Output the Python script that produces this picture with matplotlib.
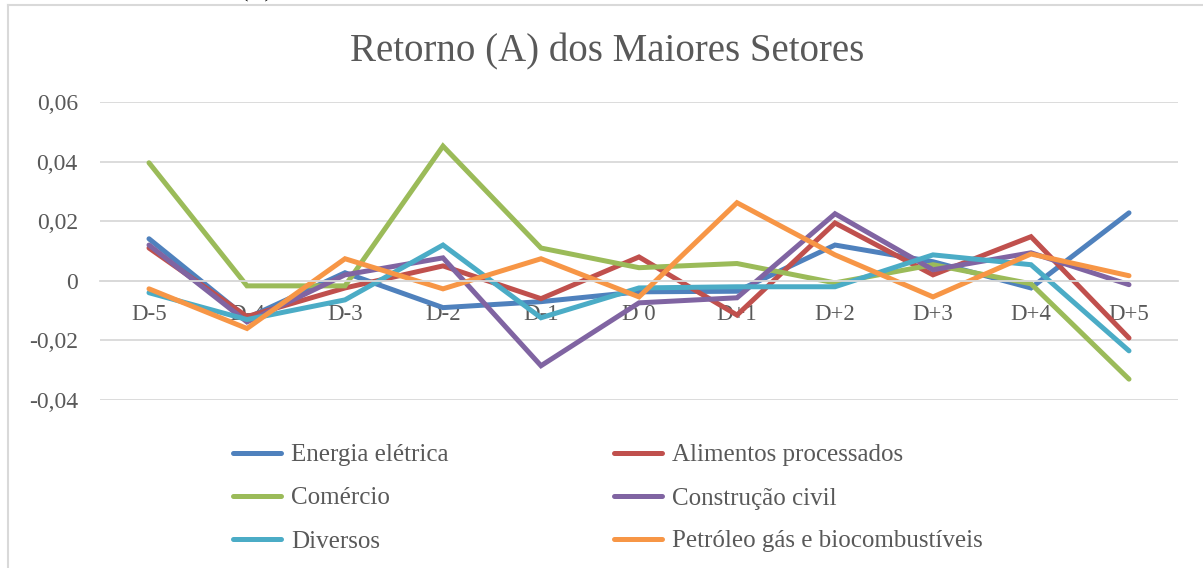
import matplotlib
matplotlib.use("Agg")
import matplotlib.pyplot as plt
from matplotlib.lines import Line2D
from matplotlib.ticker import FuncFormatter, MultipleLocator

# categories (event window days)
dias = ["D-5", "D-4", "D-3", "D-2", "D-1", "D 0", "D+1", "D+2", "D+3", "D+4", "D+5"]

# abnormal return per sector
energia = [0.0141, -0.0125, 0.0027, -0.0090, -0.0070, -0.0037, -0.0035, 0.0120, 0.0064, -0.0024, 0.0228]
alimentos = [0.0110, -0.0120, -0.0024, 0.0050, -0.0060, 0.0080, -0.0115, 0.0194, 0.0020, 0.0148, -0.0192]
comercio = [0.0396, -0.0017, -0.0017, 0.0452, 0.0110, 0.0044, 0.0058, -0.0007, 0.0054, -0.0010, -0.0330]
construcao = [0.0120, -0.0138, 0.0020, 0.0077, -0.0285, -0.0074, -0.0057, 0.0225, 0.0037, 0.0094, -0.0013]
diversos = [-0.0040, -0.0130, -0.0064, 0.0120, -0.0124, -0.0024, -0.0020, -0.0020, 0.0087, 0.0054, -0.0235]
petroleo = [-0.0027, -0.0160, 0.0074, -0.0027, 0.0074, -0.0054, 0.0262, 0.0087, -0.0054, 0.0090, 0.0017]

series = [
    ("Energia elétrica", energia, "#4F81BD"),
    ("Alimentos processados", alimentos, "#C0504D"),
    ("Comércio", comercio, "#9BBB59"),
    ("Construção civil", construcao, "#8064A2"),
    ("Diversos", diversos, "#4BACC6"),
    ("Petróleo gás e biocombustíveis", petroleo, "#F79646"),
]

plt.rcParams['font.family'] = ['Liberation Serif', 'DejaVu Serif']
txt = "#595959"
grid = "#D9D9D9"

fig = plt.figure(figsize=(12.03, 5.68), dpi=100)
ax = fig.add_axes([100/1203, 1-400/568, 1078/1203, 298/568])

x = list(range(len(dias)))
handles = {}
for name, vals, col in series:
    ln, = ax.plot(x, vals, color=col, lw=3.6, solid_capstyle='round',
                  solid_joinstyle='miter', label=name)
    handles[name] = ln

ax.set_xlim(-0.5, len(dias) - 0.5)
ax.set_ylim(-0.04, 0.06)
ax.yaxis.set_major_locator(MultipleLocator(0.02))

def fmt(v, pos):
    if abs(v) < 1e-9:
        return "0"
    return ("%.2f" % v).replace(".", ",")

ax.yaxis.set_major_formatter(FuncFormatter(fmt))
ax.grid(axis='y', color=grid, lw=1.3)
ax.set_axisbelow(True)
for s in ["top", "right", "left"]:
    ax.spines[s].set_visible(False)
ax.spines["bottom"].set_position(("data", 0))
ax.spines["bottom"].set_color(grid)
ax.spines["bottom"].set_linewidth(1.3)
ax.set_xticks(x)
ax.set_xticklabels(dias)
ax.tick_params(axis='x', length=0, pad=17, labelsize=16.5, labelcolor=txt)
ax.tick_params(axis='y', length=0, pad=16, labelsize=17, labelcolor=txt)

fig.text(607/1203, 1-52/568, "Retorno (A) dos Maiores Setores", ha='center', va='center',
         fontsize=28, color=txt)

# fragment of the caption above the chart
fig.text(256/1203, 1-2/568, "(A)", ha='center', va='bottom', fontsize=16, color="black")

# chart area border (left and top)
fig.add_artist(Line2D([8/1203, 8/1203], [0, 1-5/568], color=grid, lw=1.5))
fig.add_artist(Line2D([8/1203, 1], [1-5/568, 1-5/568], color=grid, lw=1.5))

order = ["Energia elétrica", "Comércio", "Diversos",
         "Alimentos processados", "Construção civil", "Petróleo gás e biocombustíveis"]
fig.legend([handles[n] for n in order], order, ncol=2, loc='upper left',
           bbox_to_anchor=(233/1203, 1-444/568), frameon=False, fontsize=18,
           labelcolor=txt, handlelength=1.92, handletextpad=0.4, columnspacing=6.6,
           labelspacing=0.82, borderaxespad=0, borderpad=0)

fig.savefig("out.png", dpi=100, facecolor="white")
